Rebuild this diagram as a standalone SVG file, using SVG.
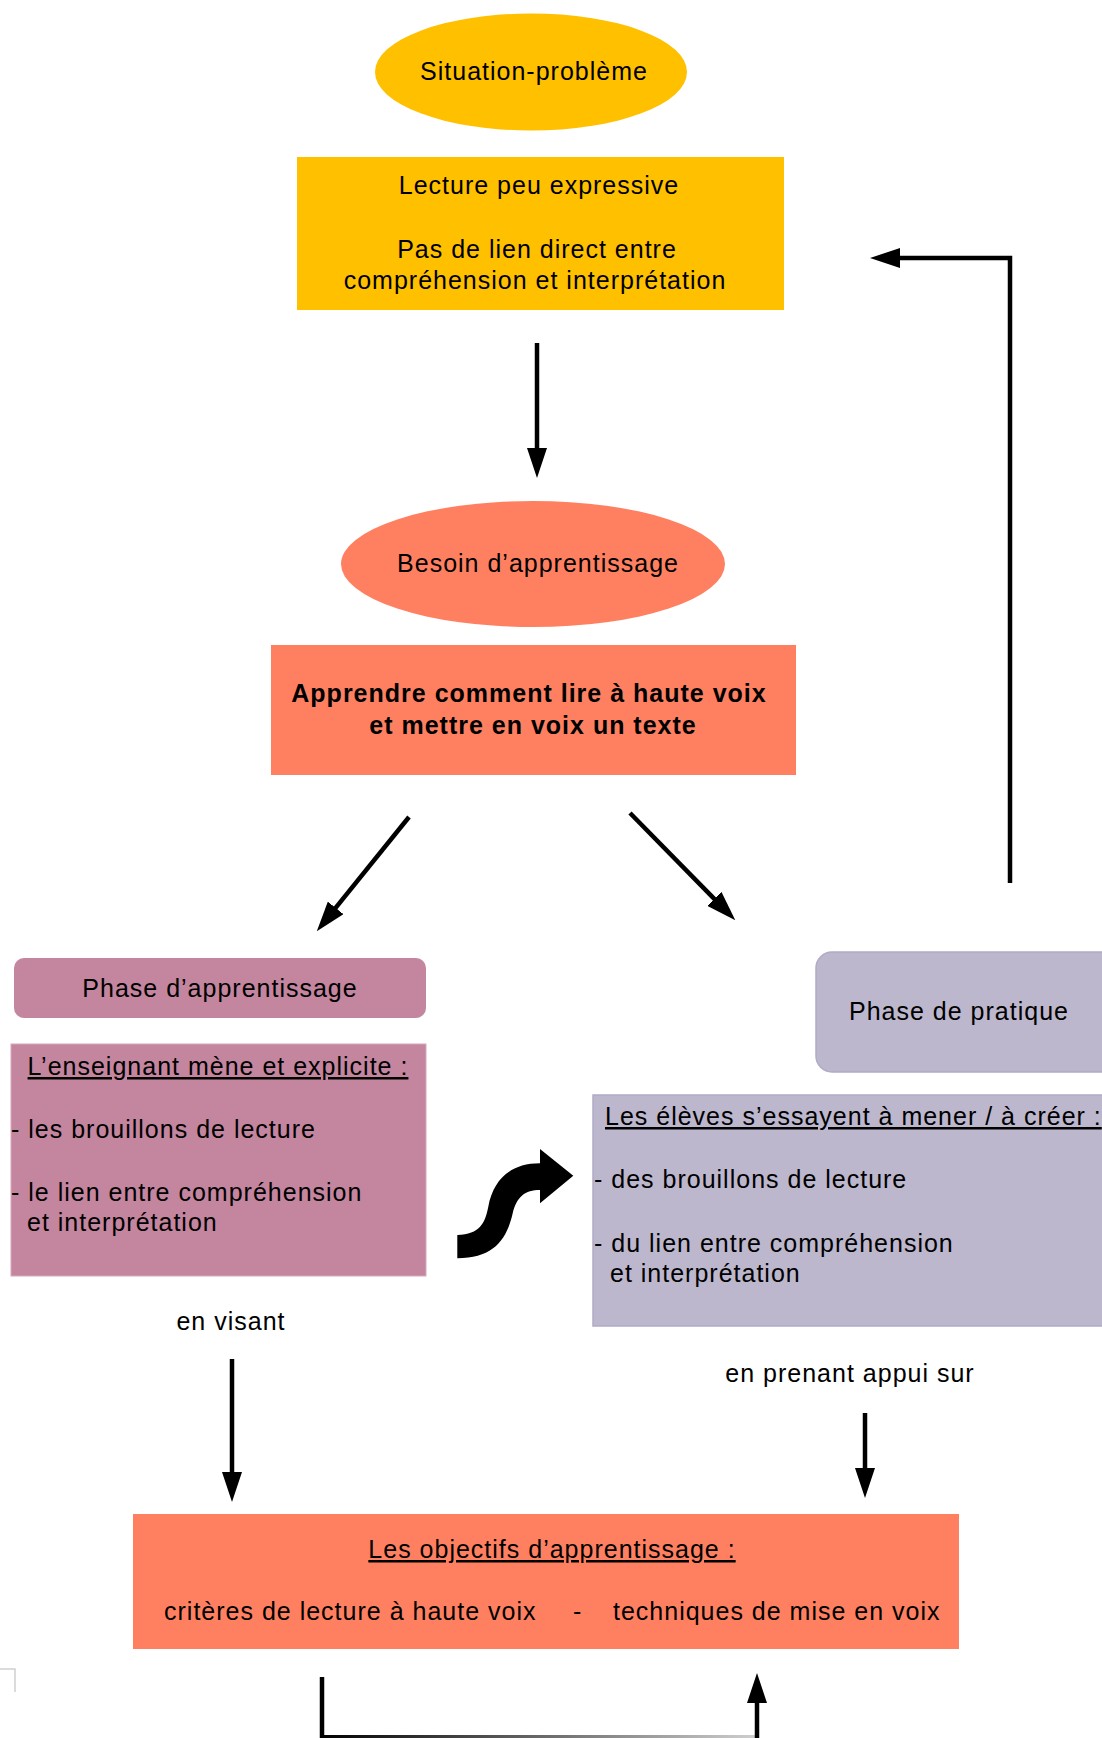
<svg xmlns="http://www.w3.org/2000/svg" width="1102" height="1738" viewBox="0 0 1102 1738">
<style>
text{font-family:"Liberation Sans",Arial,sans-serif;font-size:25px;letter-spacing:1px;fill:#000}
.c{text-anchor:middle}
.b{font-weight:bold}
.u{text-decoration:underline}
.yel{fill:#FFC000}
.sal{fill:#FF8061}
.mau{fill:#C4859F}
.lav{fill:#BCB7CD;stroke:#B0ABC6;stroke-width:1.5}
.ln{fill:none;stroke:#000;stroke-width:4.5;stroke-linejoin:miter}
</style>
<defs>
<marker id="ah" markerUnits="userSpaceOnUse" viewBox="0 0 30 20" markerWidth="30" markerHeight="20" refX="1" refY="10" orient="auto">
<path d="M0,0 L30,10 L0,20 z" fill="#000"/>
</marker>
<linearGradient id="fade" gradientUnits="userSpaceOnUse" x1="320" y1="0" x2="759" y2="0">
<stop offset="0" stop-color="#000"/>
<stop offset="1" stop-color="#d0d0d0"/>
</linearGradient>
</defs>
<rect width="1102" height="1738" fill="#fff"/>

<g id="situation">
<ellipse class="yel" cx="531" cy="72" rx="156" ry="58.5"/>
<text class="c" x="534" y="80">Situation-problème</text>
</g>
<g id="lecture">
<rect class="yel" x="297" y="157" width="487" height="153"/>
<text class="c" x="539" y="194">Lecture peu expressive</text>
<text class="c" x="537" y="258">Pas de lien direct entre</text>
<text class="c" x="535" y="289">compréhension et interprétation</text>
</g>
<g id="besoin">
<ellipse class="sal" cx="533" cy="564" rx="192" ry="63"/>
<text class="c" x="538" y="572">Besoin d’apprentissage</text>
</g>
<g id="apprendre">
<rect class="sal" x="271" y="645" width="525" height="130"/>
<text class="c b" x="529" y="702">Apprendre comment lire à haute voix</text>
<text class="c b" x="533" y="734">et mettre en voix un texte</text>
</g>
<g id="phase-apprentissage">
<rect class="mau" x="14" y="958" width="412" height="60" rx="10"/>
<text class="c" x="220" y="997">Phase d’apprentissage</text>
</g>
<g id="enseignant">
<rect class="mau" x="11" y="1044" width="415" height="232" stroke="#d6a8bb" stroke-width="1"/>
<text class="c u" x="218" y="1075">L’enseignant mène et explicite :</text>
<text x="11" y="1138">- les brouillons de lecture</text>
<text x="11" y="1201">- le lien entre compréhension</text>
<text x="27" y="1231">et interprétation</text>
</g>
<g id="phase-pratique">
<rect class="lav" x="816" y="952" width="300" height="120" rx="16"/>
<text class="c" x="959" y="1020">Phase de pratique</text>
</g>
<g id="eleves">
<rect class="lav" x="593" y="1095" width="520" height="231"/>
<text class="u" x="605" y="1125">Les élèves s’essayent à mener / à créer :</text>
<text x="594" y="1188">- des brouillons de lecture</text>
<text x="594" y="1252">- du lien entre compréhension</text>
<text x="610" y="1282">et interprétation</text>
</g>
<g id="curved-arrow">
<path d="M457.3,1235 C480,1234 485,1223.3 488.3,1206.7 C493.3,1180 510,1163.3 540,1163.3 L540,1149 L573.3,1175.7 L540,1203.3 L540,1190 C525,1190 516.7,1196.7 512.7,1213.3 C506.7,1240 493.3,1258.3 457.3,1258.3 Z" fill="#000"/>
</g>
<g id="objectifs">
<rect class="sal" x="133" y="1514" width="826" height="135"/>
<text class="c u" x="552" y="1558">Les objectifs d’apprentissage :</text>
<text x="164" y="1620">critères de lecture à haute voix</text>
<text x="573" y="1620">-</text>
<text x="613" y="1620">techniques de mise en voix</text>
</g>
<g id="labels">
<text class="c" x="231" y="1330">en visant</text>
<text class="c" x="850" y="1382">en prenant appui sur</text>
</g>

<g id="connectors">
<line class="ln" x1="537" y1="343" x2="537" y2="449" marker-end="url(#ah)"/>
<line class="ln" x1="409" y1="817" x2="335" y2="908.7" marker-end="url(#ah)"/>
<line class="ln" x1="630" y1="813" x2="715" y2="899.6" marker-end="url(#ah)"/>
<polyline class="ln" points="1010,883 1010,258 899,258" marker-end="url(#ah)"/>
<line class="ln" x1="232" y1="1359" x2="232" y2="1473" marker-end="url(#ah)"/>
<line class="ln" x1="865" y1="1413" x2="865" y2="1469" marker-end="url(#ah)"/>
<polyline class="ln" points="322,1677 322,1738"/>
<rect x="320" y="1735" width="439" height="3" fill="url(#fade)"/>
<line class="ln" x1="757" y1="1738" x2="757" y2="1702" marker-end="url(#ah)"/>
<polyline points="0,1669 15,1669 15,1692" fill="none" stroke="#cfcfcf" stroke-width="1.5"/>
</g>
</svg>
